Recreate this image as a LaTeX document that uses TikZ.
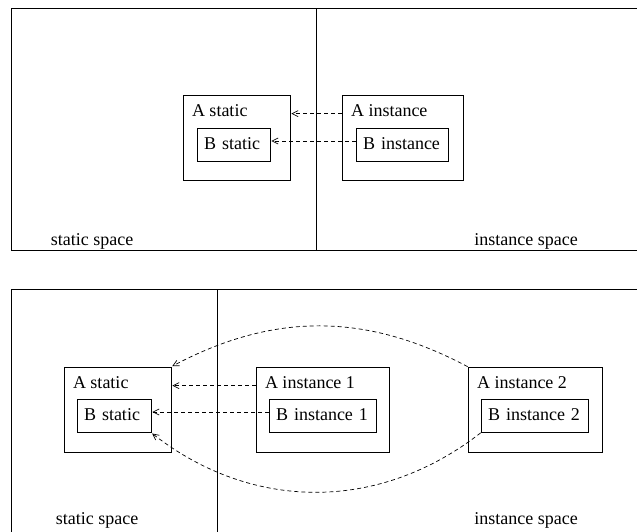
\documentclass[tikz,border=0pt]{standalone}
\usepackage{fontspec}
\setmainfont{Liberation Serif}
\usetikzlibrary{arrows.meta}
\begin{document}
\begin{tikzpicture}[x=1pt,y=-1pt,line width=0.7pt,font=\fontsize{18}{21}\selectfont,
	abox/.style={draw,minimum width=#1,minimum height=85pt,inner sep=0pt},
	atext/.style={anchor=north west,inner sep=0pt,xshift=9pt,yshift=-9pt,text height=12pt},
	bbox/.style={draw,text width=#1,align=left,inner xsep=7pt,inner ysep=0pt,minimum height=33pt,text height=12pt,text depth=3pt},
	dep/.style={dash pattern=on 4pt off 3pt,shorten >=1pt,-{Straight Barb[length=6pt,width=6pt]}}]
	\useasboundingbox (0,0) rectangle (637,531);
	% upper picture
	\draw (645,8)--(11,8)--(11,250)--(645,250);
	\draw (316,8)--(316,250);
	\node[abox=107pt,label={[atext]north west:A static}] (As) at (236.5,137.5) {};
	\node[bbox=59pt] (Bs) at (233.5,144.5) {B static};
	\node[abox=121pt,label={[atext]north west:A instance}] (Ai) at (402.5,137.5) {};
	\node[bbox=78pt] (Bi) at (402,144.5) {B instance};
	\draw[dep] ([yshift=-19pt]Ai.north west)--([yshift=-19pt]As.north east);
	\draw[dep] ([yshift=3.5pt]Bi.west)--([yshift=3.5pt]Bs.east);
	\node[anchor=base] (ss) at (92,245) {static space};
	\node[anchor=base] (is) at (526,245) {instance space};
	% lower picture
	\draw (645,289)--(11,289)--(11,540);
	\draw (217,289)--(217,540);
	\node[abox=107pt,label={[atext]north west:A static}] (As2) at (117.5,409.5) {};
	\node[bbox=60pt] (Bs2) at (114,416) {B static};
	\node[abox=133pt,label={[atext]north west:A instance 1}] (Ai1) at (322.5,409.5) {};
	\node[bbox=93pt] (Bi1) at (322.5,416) {B instance 1};
	\node[abox=134pt,label={[atext]north west:A instance 2}] (Ai2) at (535,409.5) {};
	\node[bbox=93pt] (Bi2) at (534.5,416) {B instance 2};
	\draw[dep] ([yshift=-19pt]Ai1.north west)--([yshift=-19pt]As2.north east);
	\draw[dep] ([yshift=4pt]Bi1.west)--([yshift=4pt]Bs2.east);
	\draw[dep] (Ai2.north west) to[bend right=28] (As2.north east);
	\draw[dep] (Bi2.south west) to[bend left=38] (Bs2.south east);
	\node[anchor=base] (ss2) at (97,524) {static space};
	\node[anchor=base] (is2) at (526,524) {instance space};
\end{tikzpicture}
\end{document}
